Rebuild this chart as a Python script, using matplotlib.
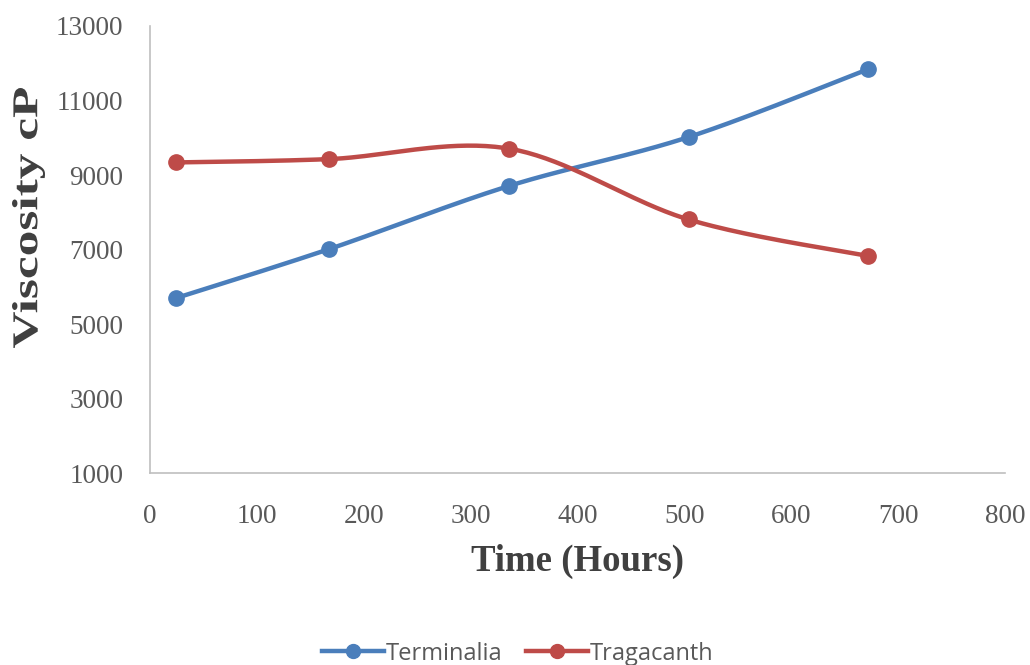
import numpy as np
import matplotlib
matplotlib.use("Agg")
import matplotlib.pyplot as plt
from matplotlib.textpath import TextPath
from matplotlib.font_manager import FontProperties
from matplotlib.patches import PathPatch
from matplotlib.transforms import Affine2D, IdentityTransform

# viscosity readings over storage time
hours = [24, 168, 336, 504, 672]
terminalia = [5700, 7020, 8710, 10020, 11840]
tragacanth = [9340, 9430, 9710, 7810, 6830]

x_ticks = [0, 100, 200, 300, 400, 500, 600, 700, 800]
y_ticks = [1000, 3000, 5000, 7000, 9000, 11000, 13000]

blue = "#4a7ebb"
red = "#be4b48"
grey = "#595959"
dark = "#404040"


def smooth(xs, ys, n=40):
    # Catmull-Rom style bezier through every point (spreadsheet "smoothed line")
    xs = np.asarray(xs, float)
    ys = np.asarray(ys, float)
    px = np.concatenate([[xs[0]], xs, [xs[-1]]])
    py = np.concatenate([[ys[0]], ys, [ys[-1]]])
    out_x, out_y = [], []
    t = np.linspace(0, 1, n)
    for i in range(1, len(px) - 2):
        p0 = np.array([px[i], py[i]])
        p3 = np.array([px[i + 1], py[i + 1]])
        p1 = p0 + (np.array([px[i + 1], py[i + 1]]) - np.array([px[i - 1], py[i - 1]])) / 6
        p2 = p3 - (np.array([px[i + 2], py[i + 2]]) - np.array([px[i], py[i]])) / 6
        b = ((1 - t) ** 3)[:, None] * p0 + (3 * (1 - t) ** 2 * t)[:, None] * p1 \
            + (3 * (1 - t) * t ** 2)[:, None] * p2 + (t ** 3)[:, None] * p3
        out_x.extend(b[:, 0])
        out_y.extend(b[:, 1])
    return out_x, out_y


fig = plt.figure(figsize=(10.3, 6.65), dpi=100)
ax = fig.add_axes([0.1456, 0.288, 0.830, 0.673])

for ys, col, name in [(terminalia, blue, "Terminalia"), (tragacanth, red, "Tragacanth")]:
    sx, sy = smooth(hours, ys)
    ax.plot(sx, sy, color=col, lw=3.2, solid_capstyle="round")
    ax.plot(hours, ys, "o", color=col, ms=11)
    ax.plot([], [], color=col, lw=3.2, marker="o", ms=10, label=name)

ax.set_xlim(0, 800)
ax.set_ylim(1000, 13000)
ax.set_xticks(x_ticks)
ax.set_yticks(y_ticks)
ax.tick_params(length=0, labelsize=19.5, labelcolor=grey)
ax.tick_params(axis="y", pad=19)
ax.tick_params(axis="x", pad=22)
for lab in ax.get_xticklabels() + ax.get_yticklabels():
    lab.set_family("Liberation Serif")

for s in ["top", "right"]:
    ax.spines[s].set_visible(False)
for s in ["left", "bottom"]:
    ax.spines[s].set_color("#bfbfbf")
    ax.spines[s].set_linewidth(1.2)

ax.set_xlabel("Time (Hours)", family="Liberation Serif", weight="bold",
              fontsize=26.5, color=dark, labelpad=11)

# y title: tall, narrow bold serif text, drawn as a path in pixel space
tp = TextPath((0, 0), "Viscosity cP", size=1,
              prop=FontProperties(family="Liberation Serif", weight="bold"))
ext = tp.get_extents()
along, across = 260.0, 33.0
cx, cy = 28.5, 665 - 218
tr = (Affine2D()
      .translate(-(ext.x0 + ext.x1) / 2, -(ext.y0 + ext.y1) / 2)
      .scale(along / ext.width, across / ext.height)
      .rotate_deg(90)
      .translate(cx, cy))
fig.add_artist(PathPatch(tr.transform_path(tp), transform=IdentityTransform(),
                         facecolor=dark, edgecolor="none"))

fig.legend(loc="center", bbox_to_anchor=(0.503, 0.017), ncol=2, frameon=False,
           prop={"family": "Open Sans", "size": 17}, handlelength=2.6,
           columnspacing=1.0, handletextpad=0.1, labelcolor=grey)

fig.savefig("out.png", dpi=100)
